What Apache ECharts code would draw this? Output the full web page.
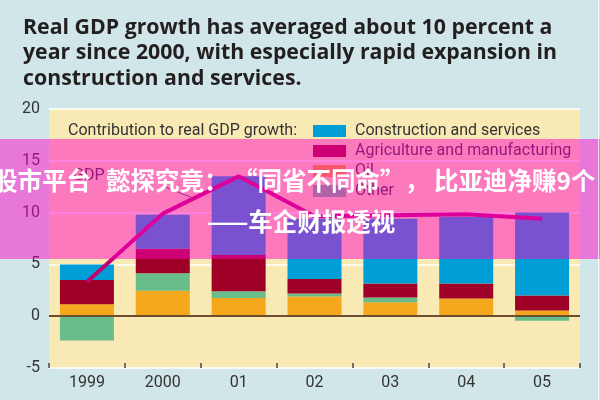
<!DOCTYPE html>
<html>
<head>
<meta charset="utf-8">
<script src="https://cdn.jsdelivr.net/npm/echarts@6/dist/echarts.min.js"></script>
<style>
html,body{margin:0;padding:0;background:#d1e6e8;}
#chart{width:600px;height:400px;}
</style>
</head>
<body>
<div id="chart"></div>
<script>
const categories = ['1999', '2000', '01', '02', '03', '04', '05'];
const construction = [1.5, 3.3, 7.6, 5.8, 6.25, 6.45, 8.0];
const agriculture = [2.35, 2.35, 3.5, 1.4, 1.35, 1.45, 1.45];
const oil = [1.15, 2.45, 1.75, 1.9, 1.35, 1.7, 0.55];
const other = [-2.35, 1.7, 0.65, 0.3, 0.45, 0, -0.45];
const gdp = [3.3, 9.9, 13.5, 9.65, 9.75, 9.85, 9.4];
const yTicks = { min: -5, max: 20, interval: 5 };

const FONT = 'Roboto';
const CJK = '"Noto Sans CJK SC"';
const chart = echarts.init(document.getElementById('chart'), null, { renderer: 'canvas' });

function barSeries(name, data, color) {
  return {
    name: name, type: 'bar', stack: 'total', data: data, barWidth: 54,
    itemStyle: { color: color }, silent: true, z: 2
  };
}

function banner(text, x, y, align) {
  return { type: 'text', silent: true, z: 101, x: x, y: y,
    style: { text: text, fill: '#fff', font: 'bold 24.5px ' + CJK,
      textAlign: align || 'left', textVerticalAlign: 'middle' } };
}

const option = {
  backgroundColor: '#d1e6e8',
  animation: false,
  textStyle: { fontFamily: FONT },
  title: {
    text: 'Real GDP growth has averaged about 10 percent a\nyear since 2000, with especially rapid expansion in\nconstruction and services.',
    left: 18, top: 10,
    textStyle: { fontFamily: '"Open Sans"', fontSize: 21.3, fontWeight: 'bold', color: '#231f20', lineHeight: 25.5 }
  },
  grid: {
    left: 49, right: 20, top: 109, bottom: 32,
    show: true, backgroundColor: '#f9e9b4', borderWidth: 0
  },
  legend: {
    data: ['Construction and services', 'Agriculture and manufacturing', 'Oil', 'Other'],
    orient: 'vertical', left: 313, top: 123, padding: 0,
    itemWidth: 33, itemHeight: 12, itemGap: 4, icon: 'rect',
    textStyle: { fontFamily: FONT, fontSize: 16, color: '#333', padding: [0, 0, 0, 4] },
    selectedMode: false
  },
  xAxis: {
    type: 'category', data: categories, boundaryGap: true,
    axisLine: { show: false, onZero: false },
    axisTick: { show: true, inside: true, length: 5, lineStyle: { color: '#444', width: 1.5 } },
    axisLabel: { fontFamily: FONT, fontSize: 16, color: '#333', margin: 7 },
    splitLine: { show: false }
  },
  yAxis: {
    type: 'value', min: yTicks.min, max: yTicks.max, interval: yTicks.interval,
    axisLine: { show: false }, axisTick: { show: false },
    axisLabel: { fontFamily: FONT, fontSize: 16, color: '#333', margin: 9, padding: [4, 0, 0, 0] },
    splitLine: { show: true, lineStyle: { color: '#ffffff', width: 1.5 } }
  },
  series: [
    barSeries('Oil', oil, '#f5a81e'),
    barSeries('Other', other, '#68bd8b'),
    barSeries('Agriculture and manufacturing', agriculture, '#9e0028'),
    Object.assign(barSeries('Construction and services', construction, '#009ed6'), {
      markLine: {
        silent: true, symbol: 'none', label: { show: false },
        lineStyle: { color: '#6b4f2f', width: 2, type: 'solid' },
        data: [{ yAxis: 0 }]
      }
    }),
    {
      name: 'GDP', type: 'line', data: gdp, symbol: 'none', silent: true, z: 5,
      lineStyle: { color: '#c2006f', width: 4 }, itemStyle: { color: '#c2006f' }
    }
  ],
  graphic: [
    { type: 'text', left: 68, top: 123, silent: true,
      style: { text: 'Contribution to real GDP growth:', fill: '#333', font: '16px ' + FONT } },
    { type: 'text', left: 73, top: 168, silent: true,
      style: { text: 'GDP', fill: '#333', font: '16px ' + FONT } },
    { type: 'line', silent: true, shape: { x1: 165, y1: 187, x2: 193, y2: 198 },
      style: { stroke: '#555', lineWidth: 1 } },
    // overlay banner
    { type: 'rect', silent: true, z: 100, shape: { x: 0, y: 139, width: 600, height: 120 },
      style: { fill: 'rgba(255,0,200,0.48)' } },
    banner('股市平台', -7, 181),
    banner('懿探究竟：', 106, 181),
    banner('“同省不同命”，', 233, 181),
    banner('比亚迪净赚9个', 434, 181),
    banner('——车企财报透视', 301, 222, 'center'),
    { type: 'line', silent: true, z: 102, shape: { x1: 598.5, y1: 0, x2: 598.5, y2: 400 },
      style: { stroke: 'rgba(255,255,255,0.7)', lineWidth: 1 } }
  ]
};
chart.setOption(option);
</script>
</body>
</html>
